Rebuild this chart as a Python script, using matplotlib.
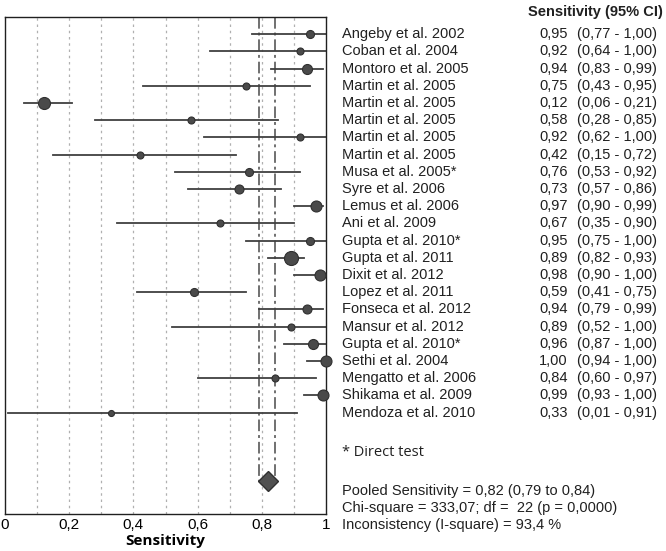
import numpy as np
import matplotlib.pyplot as plt
from matplotlib.transforms import blended_transform_factory

plt.rcParams['font.family'] = ['Liberation Sans', 'DejaVu Sans']

# study data
studies = ["Angeby et al. 2002", "Coban et al. 2004", "Montoro et al. 2005",
           "Martin et al. 2005", "Martin et al. 2005", "Martin et al. 2005",
           "Martin et al. 2005", "Martin et al. 2005", "Musa et al. 2005*",
           "Syre et al. 2006", "Lemus et al. 2006", "Ani et al. 2009",
           "Gupta et al. 2010*", "Gupta et al. 2011", "Dixit et al. 2012",
           "Lopez et al. 2011", "Fonseca et al. 2012", "Mansur et al. 2012",
           "Gupta et al. 2010*", "Sethi et al. 2004", "Mengatto et al. 2006",
           "Shikama et al. 2009", "Mendoza et al. 2010"]
sens = [0.95, 0.92, 0.94, 0.75, 0.12, 0.58, 0.92, 0.42, 0.76, 0.73, 0.97, 0.67,
        0.95, 0.89, 0.98, 0.59, 0.94, 0.89, 0.96, 1.00, 0.84, 0.99, 0.33]
ci_low = [0.77, 0.64, 0.83, 0.43, 0.06, 0.28, 0.62, 0.15, 0.53, 0.57, 0.90, 0.35,
          0.75, 0.82, 0.90, 0.41, 0.79, 0.52, 0.87, 0.94, 0.60, 0.93, 0.01]
ci_high = [1.00, 1.00, 0.99, 0.95, 0.21, 0.85, 1.00, 0.72, 0.92, 0.86, 0.99, 0.90,
           1.00, 0.93, 1.00, 0.75, 0.99, 1.00, 1.00, 1.00, 0.97, 1.00, 0.91]
# relative study weight (marker size)
weight = [4, 3.5, 5, 3.5, 6, 3.5, 3.5, 3.5, 4, 4.5, 5.5, 3.5,
          4, 7, 5.5, 4, 4.5, 3.5, 5, 5.5, 3.5, 5.5, 3]

pooled = 0.82
pooled_lo = 0.79
pooled_hi = 0.84

fig = plt.figure(figsize=(6.66, 5.51), dpi=100)
ax = fig.add_axes([5/666, 37/551, 321/666, 497/551])

n = len(studies)
y = np.arange(n)
diamond_row = 26

# grid
for gx in np.arange(0.1, 1.0, 0.1):
    ax.axvline(gx, color='#b0b0b0', ls=(0, (2, 3)), lw=0.9, zorder=0)

# pooled CI lines
for v in (pooled_lo, pooled_hi):
    ax.plot([v, v], [-1.0, diamond_row], color='#707070', ls='-.', lw=1.4,
            dashes=(6, 2, 1.5, 2), zorder=1)

for i in range(n):
    ax.plot([ci_low[i], ci_high[i]], [y[i], y[i]], color='#404040', lw=1.3, zorder=2)
    ax.plot(sens[i], y[i], 'o', ms=weight[i] * 2 * 0.72, color='#4a4a4a',
            mec='#303030', mew=0.8, zorder=3, clip_on=False)

ax.plot(pooled, diamond_row, 'D', ms=10, color='#505050', mec='#303030', zorder=3)

ax.set_xlim(0, 1)
ax.set_ylim(27.9, -1.0)
ax.set_yticks([])
ax.set_xticks([0, 0.2, 0.4, 0.6, 0.8, 1.0])
ax.set_xticklabels(["0", "0,2", "0,4", "0,6", "0,8", "1"], fontsize=11)
ax.tick_params(axis='x', length=0, pad=3)
ax.set_xlabel("Sensitivity", fontsize=11, fontweight='bold', labelpad=1,
              family=['Open Sans', 'DejaVu Sans'])
for s in ax.spines.values():
    s.set_color('#202020')
    s.set_linewidth(1.0)

tr = blended_transform_factory(fig.transFigure, ax.transData)
fs = 10.5
for i in range(n):
    ax.text(342/666, y[i], studies[i], transform=tr, fontsize=fs, va='center',
            ha='left', color='#202020')
    ax.text(568/666, y[i], ("%.2f" % sens[i]).replace('.', ','), transform=tr,
            fontsize=fs, va='center', ha='right', color='#202020')
    ax.text(577/666, y[i], ("(%.2f - %.2f)" % (ci_low[i], ci_high[i])).replace('.', ','),
            transform=tr, fontsize=fs, va='center', ha='left', color='#202020')

fig.text(528/666, 1 - 12/551, "Sensitivity (95% CI)", fontsize=fs, fontweight='bold',
         va='center', ha='left', color='#202020')
fig.text(342/666, 1 - 452/551, "* Direct test", fontsize=fs, va='center', ha='left',
         color='#202020', family=['Open Sans', 'DejaVu Sans'])
fig.text(342/666, 1 - 491/551, "Pooled Sensitivity = 0,82 (0,79 to 0,84)", fontsize=fs,
         va='center', ha='left', color='#202020')
fig.text(342/666, 1 - 508/551, "Chi-square = 333,07; df =  22 (p = 0,0000)", fontsize=fs,
         va='center', ha='left', color='#202020')
fig.text(342/666, 1 - 525/551, "Inconsistency (I-square) = 93,4 %", fontsize=fs,
         va='center', ha='left', color='#202020')

fig.savefig("out.png", dpi=100)
